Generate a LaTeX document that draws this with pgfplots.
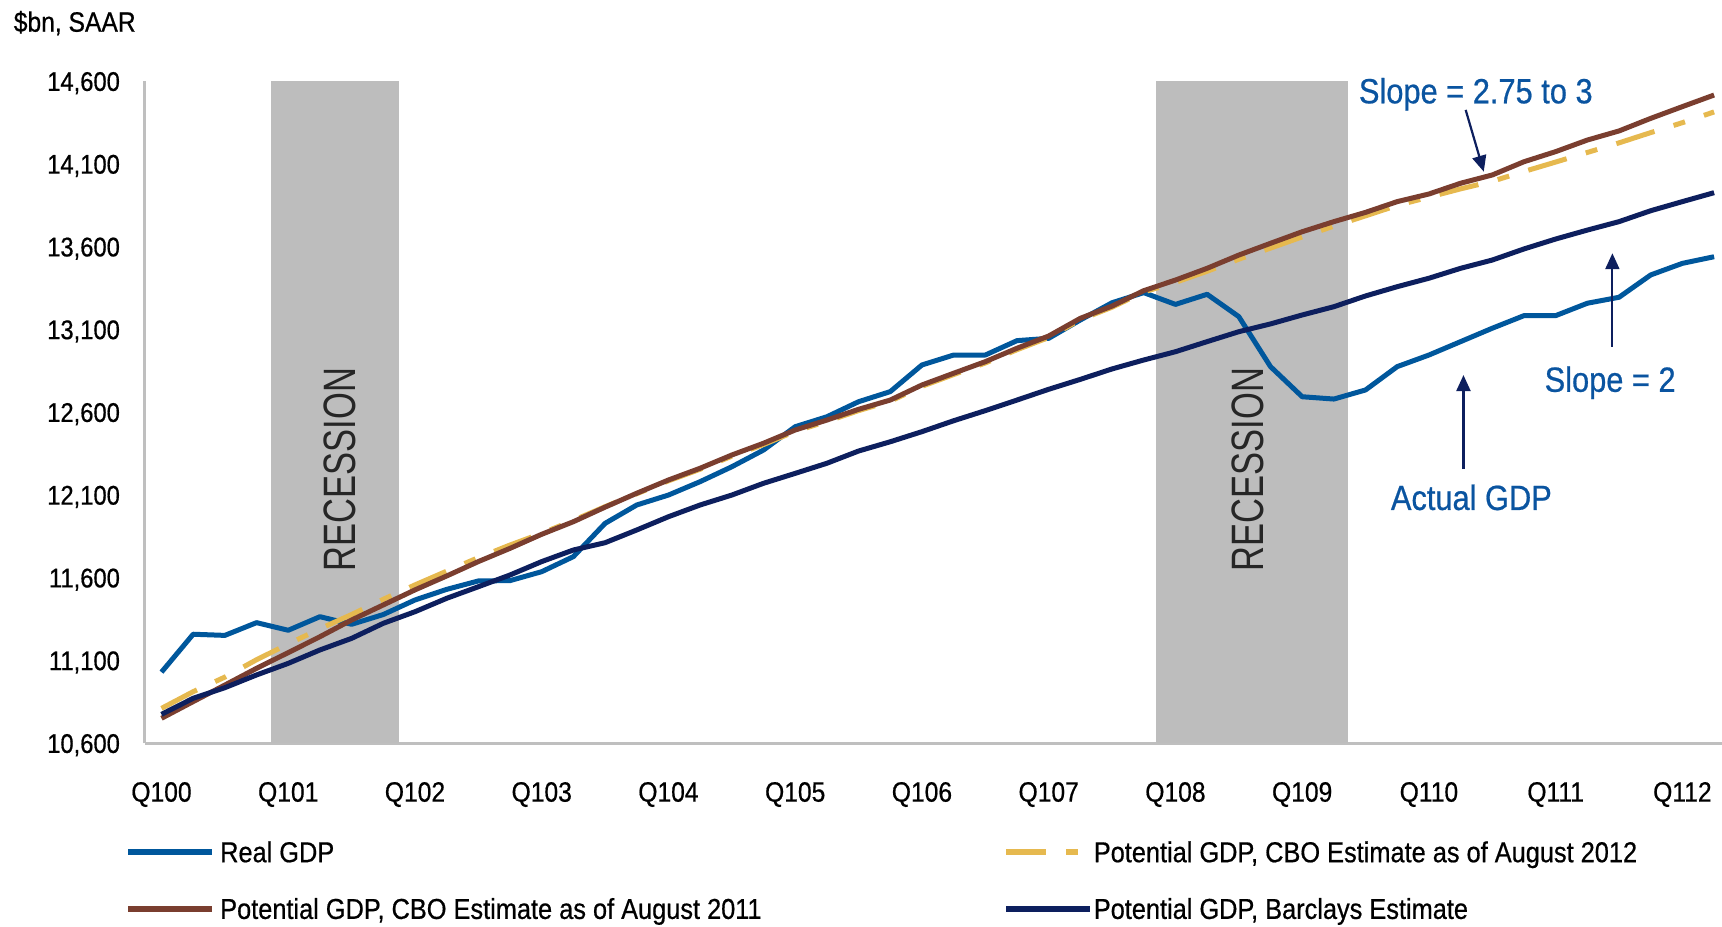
\documentclass[border=0pt]{standalone}
\usepackage{fontspec}
\setmainfont{Liberation Sans}[FakeStretch=0.88, FakeBold=0.6]
\newfontfamily\recfont{Liberation Sans}[FakeStretch=0.76]
\usepackage{pgfplots}
\usepackage{pgfplotstable}
\pgfplotsset{compat=1.18}
\usetikzlibrary{arrows.meta}

\definecolor{realblue}{HTML}{00579C}
\definecolor{cbobrown}{HTML}{7A3E2F}
\definecolor{cboyellow}{HTML}{E6B94F}
\definecolor{barcnavy}{HTML}{0D1F5E}
\definecolor{recgray}{HTML}{BDBDBD}
\definecolor{axisgray}{HTML}{BFBFBF}
\definecolor{annblue}{HTML}{0A54A0}

\pgfplotstableread{
n real cbo12 cbo11 barc
0 11030 10811 10751 10775
1 11259 10912 10852 10872
2 11252 11000 10952 10936
3 11329 11105 11053 11013
4 11283 11200 11148 11083
5 11365 11292 11244 11164
6 11319 11378 11345 11234
7 11378 11470 11436 11325
8 11466 11557 11527 11395
9 11530 11640 11611 11476
10 11581 11722 11698 11546
11 11583 11798 11778 11617
12 11637 11869 11863 11698
13 11728 11947 11939 11768
14 11929 12030 12027 11812
15 12040 12108 12111 11889
16 12100 12186 12191 11969
17 12181 12256 12262 12040
18 12271 12335 12342 12100
19 12372 12405 12413 12171
20 12513 12485 12493 12231
21 12573 12545 12553 12292
22 12664 12610 12618 12366
23 12725 12667 12674 12422
24 12886 12757 12765 12483
25 12946 12828 12836 12549
26 12946 12898 12906 12610
27 13033 12978 12987 12674
28 13047 13052 13061 12739
29 13158 13160 13168 12799
30 13262 13235 13242 12862
31 13323 13327 13335 12916
32 13252 13385 13399 12966
33 13313 13452 13470 13027
34 13178 13525 13550 13087
35 12876 13592 13621 13134
36 12694 13660 13691 13188
37 12680 13725 13752 13238
38 12735 13787 13808 13303
39 12876 13850 13873 13359
40 12946 13900 13919 13410
41 13027 13950 13984 13470
42 13108 13996 14034 13520
43 13184 14055 14114 13587
44 13184 14112 14175 13647
45 13259 14170 14245 13701
46 13295 14228 14300 13752
47 13430 14290 14376 13818
48 13500 14350 14447 13873
49 13540 14415 14517 13927
}\gdpdata

\begin{document}
\begin{tikzpicture}
\useasboundingbox (0,0) rectangle (861pt,463pt);
\node[anchor=base west, inner sep=0pt, font=\fontsize{14}{17}\selectfont] at (6.7pt,447.15pt) {\$bn, SAAR};
\begin{axis}[
  at={(72.35pt,91.35pt)}, anchor=south west,
  scale only axis, width=788.65pt, height=331pt,
  xmin=-0.53, xmax=49.25, ymin=10600, ymax=14600,
  axis x line*=bottom, axis y line*=left,
  axis line style={draw=axisgray, line width=1.5pt, -},
  scaled y ticks=false,
  xtick={0,4,...,48},
  xticklabels={Q100,Q101,Q102,Q103,Q104,Q105,Q106,Q107,Q108,Q109,Q110,Q111,Q112},
  ytick={10600,11100,11600,12100,12600,13100,13600,14100,14600},
  yticklabels={{10,600},{11,100},{11,600},{12,100},{12,600},{13,100},{13,600},{14,100},{14,600}},
  major tick length=0pt, tick style={draw=none},
  xticklabel style={font=\fontsize{14}{17}\selectfont, anchor=north, inner sep=0pt, yshift=-19.2pt},
  yticklabel style={font=\fontsize{13.5}{16}\selectfont, anchor=base east, inner sep=0pt, xshift=-12.2pt, yshift=-4.8pt},
  clip=false,
  legend columns=2, legend cell align=left,
  legend style={at={(-0.0121,-0.1494)}, anchor=north west, draw=none, fill=none,
    inner sep=0pt, outer sep=0pt, column sep=0pt, row sep=18.35pt,
    font=\fontsize{14.4}{17}\selectfont,
    nodes={inner sep=0pt, text height=10pt, text depth=0pt},
    /tikz/column 1/.style={column sep=2.5pt}, /tikz/column 3/.style={column sep=0.5pt}},
  legend image code/.code={\draw[#1, line width=2.8pt] (0pt,0pt) -- (42pt,0pt);},
]
\addplot[fill=recgray, draw=none, mark=none, forget plot] coordinates {(3.45,10600) (3.45,14600) (7.5,14600) (7.5,10600)};
\addplot[fill=recgray, draw=none, mark=none, forget plot] coordinates {(31.4,10600) (31.4,14600) (37.45,14600) (37.45,10600)};
\node[rotate=90, inner sep=0pt, font=\recfont\fontsize{22.7}{27}\selectfont, text=black!85] at (axis cs:5.63,12254) {RECESSION};
\node[rotate=90, inner sep=0pt, font=\recfont\fontsize{22.7}{27}\selectfont, text=black!85] at (axis cs:34.29,12254) {RECESSION};

\addplot[realblue, line width=2.5pt, line join=round, mark=none] table[x=n,y=real]{\gdpdata};
\addlegendentry{\makebox[391.5pt][l]{Real GDP}}
\addplot[cboyellow, line width=2.5pt, mark=none, dash pattern=on 20pt off 10pt on 6pt off 10pt] table[x=n,y=cbo12]{\gdpdata};
\addlegendentry{Potential GDP, CBO Estimate as of August 2012}
\addplot[cbobrown, line width=2.5pt, line join=round, mark=none] table[x=n,y=cbo11]{\gdpdata};
\addlegendentry{\makebox[391.5pt][l]{Potential GDP, CBO Estimate as of August 2011}}
\addplot[barcnavy, line width=2.5pt, line join=round, mark=none] table[x=n,y=barc]{\gdpdata};
\addlegendentry{Potential GDP, Barclays Estimate}

\node[anchor=base, inner sep=0pt, font=\fontsize{17.5}{21}\selectfont, text=annblue] at (axis cs:41.48,14467) {Slope = 2.75 to 3};
\node[anchor=base, inner sep=0pt, font=\fontsize{17.5}{21}\selectfont, text=annblue] at (axis cs:45.72,12724) {Slope = 2};
\node[anchor=base, inner sep=0pt, font=\fontsize{17.5}{21}\selectfont, text=annblue] at (axis cs:41.34,12010) {Actual GDP};
\draw[barcnavy, line width=1.1pt, -{Triangle[length=8pt,width=7pt]}] (axis cs:41.16,14427) -- (axis cs:41.73,14054);
\draw[barcnavy, line width=1.1pt, -{Triangle[length=8pt,width=7pt]}] (axis cs:45.79,12996) -- (axis cs:45.79,13561);
\draw[barcnavy, line width=1.1pt, -{Triangle[length=8pt,width=7pt]}] (axis cs:41.09,12257) -- (axis cs:41.09,12825);
\end{axis}
\end{tikzpicture}
\end{document}
